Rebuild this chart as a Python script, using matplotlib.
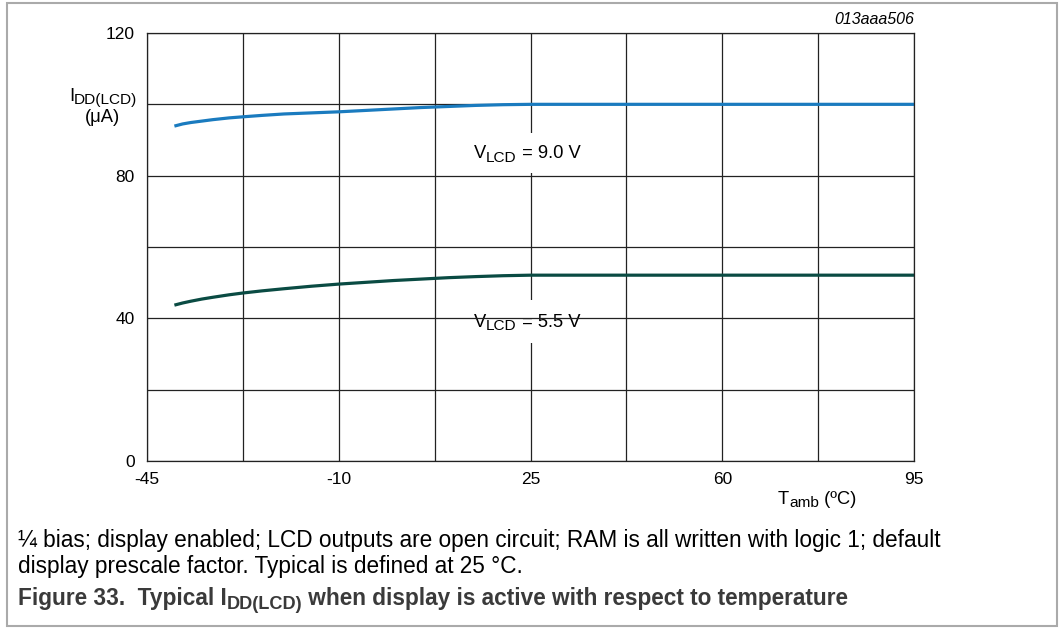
import matplotlib
matplotlib.use("Agg")
import matplotlib.pyplot as plt
from matplotlib.patches import Rectangle
from matplotlib.transforms import IdentityTransform

plt.rcParams['font.family'] = ['Liberation Sans', 'DejaVu Sans']

# Data
temp_9v = [-40, -38.5, -37, -35, -33, -30, -27.5, -24, -20, -15, -10, -5, 0, 5, 10, 15, 20, 25, 95]
idd_9v = [93.9, 94.5, 94.9, 95.3, 95.7, 96.2, 96.5, 96.9, 97.3, 97.6, 97.9, 98.3, 98.7, 99.1, 99.4, 99.7, 99.9, 100.0, 100.0]
temp_55v = [-40, -38.5, -37, -35, -33, -30, -27.5, -24, -20, -15, -10, -5, 0, 5, 10, 15, 20, 25, 95]
idd_55v = [43.7, 44.3, 44.8, 45.4, 45.9, 46.6, 47.1, 47.7, 48.3, 49.0, 49.6, 50.1, 50.6, 51.0, 51.4, 51.7, 51.95, 52.1, 52.1]

x_grid = [-45, -27.5, -10, 7.5, 25, 42.5, 60, 77.5, 95]
y_grid = [0, 20, 40, 60, 80, 100, 120]
x_ticks = [-45, -10, 25, 60, 95]
y_ticks = [0, 40, 80, 120]

W, H = 1061, 628
fig = plt.figure(figsize=(W / 100, H / 100), dpi=100)
renderer = fig.canvas.get_renderer()
ax = fig.add_axes([147 / W, 1 - 461 / H, (914 - 147) / W, (461 - 33) / H])
ax.set_xlim(-45, 95)
ax.set_ylim(0, 120)


def rich(parent, x, y, parts, size, ha='left', sub_scale=0.84, drop=3.0, zorder=3, **kw):
    """Place text pieces (string, is_subscript) on one baseline; x, y in pixels from top-left."""
    objs = []
    total = 0.0
    for s, sub in parts:
        fs = size * sub_scale if sub else size
        t = parent.text(0, 0, s, fontsize=fs, va='baseline', ha='left',
                        transform=IdentityTransform(), zorder=zorder, **kw)
        w = t.get_window_extent(renderer).width
        objs.append((t, w, sub))
        total += w
    if ha == 'center':
        cx = x - total / 2
    elif ha == 'right':
        cx = x - total
    else:
        cx = x
    for t, w, sub in objs:
        yy = y + (drop if sub else 0)
        t.set_position((cx, H - yy))
        cx += w


gc = '#222222'
for xv in x_grid:
    ax.axvline(xv, color=gc, lw=0.9, zorder=1)
for yv in y_grid:
    ax.axhline(yv, color=gc, lw=0.9, zorder=3)

ax.plot(temp_9v, idd_9v, color='#1a7bbf', lw=2.3, zorder=4, solid_capstyle='butt')
ax.plot(temp_55v, idd_55v, color='#0a4b43', lw=2.3, zorder=4, solid_capstyle='butt')

# white label boxes (cover vertical grid lines)
ax.add_patch(Rectangle((463, H - 173), 127, 40, transform=IdentityTransform(),
                       facecolor='white', edgecolor='none', zorder=1.5))
ax.add_patch(Rectangle((463, H - 343), 127, 43, transform=IdentityTransform(),
                       facecolor='white', edgecolor='none', zorder=1.5))
rich(ax, 527, 158.5, [('V', False), ('LCD', True), (' = 9.0 V', False)], 13.2, ha='center', zorder=2)
rich(ax, 527, 327, [('V', False), ('LCD', True), (' = 5.5 V', False)], 13.2, ha='center', zorder=2)

ax.set_xticks(x_ticks)
ax.set_yticks(y_ticks)
ax.set_xticklabels([str(v) for v in x_ticks])
ax.set_yticklabels([str(v) for v in y_ticks])
ax.tick_params(length=0, labelsize=12.5, colors='black')
ax.tick_params(axis='y', pad=9)
ax.tick_params(axis='x', pad=8)
for s in ax.spines.values():
    s.set_color(gc)
    s.set_linewidth(0.9)
    s.set_zorder(5)

rich(fig, 817, 504, [('T', False), ('amb', True), (' (ºC)', False)], 13.2, ha='center')
rich(fig, 103, 101, [('I', False), ('DD(LCD)', True)], 13.2, ha='center')
rich(fig, 103, 122, [('(μA)', False)], 13.2, ha='center')
fig.text(914 / W, 1 - 20 / H, '013aaa506', ha='right', va='center', fontsize=11.5, style='italic')

rich(fig, 18, 547,
     [('¼ bias; display enabled; LCD outputs are open circuit; RAM is all written with logic 1; default', False)],
     16.3)
rich(fig, 18, 573, [('display prescale factor. Typical is defined at 25 °C.', False)], 16.3)
rich(fig, 18, 605,
     [('Figure 33.  Typical I', False), ('DD(LCD)', True),
      (' when display is active with respect to temperature', False)],
     16.3, sub_scale=0.8, drop=4, fontweight='bold', color='#3a3a3a')

fig.patches.append(Rectangle((7 / W, 1 - 626 / H), (1057 - 7) / W, (626 - 3) / H,
                             transform=fig.transFigure, fill=False,
                             edgecolor='#aaaaaa', lw=1.5))

fig.savefig('out.png', dpi=100)
